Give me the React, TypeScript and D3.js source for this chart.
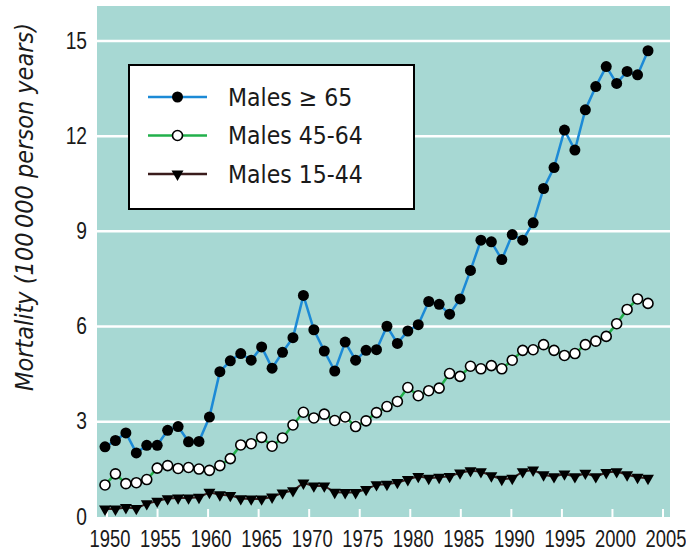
import { useEffect, useRef } from "react";
import * as d3 from "d3";

// yearly mortality
const years = [
  1950, 1951, 1952, 1953, 1954, 1955, 1956, 1957, 1958, 1959,
  1960, 1961, 1962, 1963, 1964, 1965, 1966, 1967, 1968, 1969,
  1970, 1971, 1972, 1973, 1974, 1975, 1976, 1977, 1978, 1979,
  1980, 1981, 1982, 1983, 1984, 1985, 1986, 1987, 1988, 1989,
  1990, 1991, 1992, 1993, 1994, 1995, 1996, 1997, 1998, 1999,
  2000, 2001, 2002,
];

const malesOver65 = [
  2.21, 2.41, 2.65, 2.02, 2.26, 2.26, 2.73, 2.85, 2.37, 2.38,
  3.15, 4.58, 4.92, 5.15, 4.94, 5.36, 4.69, 5.19, 5.65, 6.98,
  5.9, 5.23, 4.6, 5.51, 4.94, 5.25, 5.27, 6.01, 5.47, 5.86,
  6.06, 6.79, 6.7, 6.39, 6.87, 7.77, 8.72, 8.67, 8.11, 8.9,
  8.72, 9.27, 10.35, 11.01, 12.19, 11.56, 12.83, 13.56, 14.19, 13.66,
  14.04, 13.93, 14.69,
];

const males45to64 = [
  1.01, 1.36, 1.05, 1.08, 1.18, 1.54, 1.62, 1.53, 1.56, 1.51,
  1.47, 1.62, 1.84, 2.27, 2.31, 2.51, 2.23, 2.49, 2.9, 3.3,
  3.12, 3.24, 3.04, 3.15, 2.85, 3.03, 3.29, 3.48, 3.64, 4.08,
  3.82, 3.98, 4.06, 4.52, 4.43, 4.75, 4.67, 4.77, 4.67, 4.94,
  5.25, 5.27, 5.43, 5.25, 5.09, 5.15, 5.43, 5.54, 5.69, 6.09,
  6.54, 6.87, 6.73,
];

const males15to44 = [
  0.25, 0.25, 0.3, 0.27, 0.42, 0.5, 0.58, 0.6, 0.6, 0.62,
  0.78, 0.7, 0.68, 0.58, 0.57, 0.57, 0.63, 0.76, 0.83, 1.07,
  0.98, 0.98, 0.78, 0.77, 0.77, 0.87, 1.02, 1.03, 1.09, 1.18,
  1.28, 1.22, 1.25, 1.28, 1.39, 1.46, 1.43, 1.3, 1.19, 1.22,
  1.43, 1.48, 1.33, 1.27, 1.36, 1.27, 1.38, 1.27, 1.4, 1.43,
  1.33, 1.25, 1.22,
];

const xTicks = [1950, 1955, 1960, 1965, 1970, 1975, 1980, 1985, 1990, 1995, 2000, 2005];
const yTicks = [0, 3, 6, 9, 12, 15];
const legendLabels = ["Males \u2265 65", "Males 45-64", "Males 15-44"];

// tick labels: Arial-metric font squeezed horizontally to look like a condensed Helvetica
const TICK_FONT = '"Liberation Sans", Arimo, Arial, sans-serif';
const COND_FONT = '"DejaVu Sans Condensed", "Liberation Sans", sans-serif';

const App = () => {
  const svgRef = useRef<SVGSVGElement>(null);

  useEffect(() => {
    if (!svgRef.current) return;
    const svg = d3.select(svgRef.current);
    svg.selectAll("*").remove();

    const box = { left: 97, right: 670, top: 6, bottom: 517 };

    const y = d3.scaleLinear().domain([0, 16.1]).range([box.bottom, box.top]);
    // axis ticks and the plotted points don't share exactly the same spacing in the figure
    const xAxis = d3.scaleLinear().domain([1950, 2005]).range([107, 663]);
    const xPts = d3.scalePoint<number>().domain(years).range([105, 648]);

    // plot background
    svg.append("rect")
      .attr("x", box.left)
      .attr("y", box.top)
      .attr("width", box.right - box.left)
      .attr("height", box.bottom - box.top)
      .attr("fill", "#a7d8d3");

    // white grid lines
    svg.selectAll(".grid")
      .data(yTicks.filter(d => d > 0))
      .join("line")
      .attr("x1", box.left)
      .attr("x2", box.right)
      .attr("y1", d => y(d))
      .attr("y2", d => y(d))
      .attr("stroke", "#fff")
      .attr("stroke-width", 2.5);

    // little white ticks at the bottom
    svg.selectAll(".xtick")
      .data(xTicks)
      .join("line")
      .attr("x1", d => xAxis(d))
      .attr("x2", d => xAxis(d))
      .attr("y1", box.bottom)
      .attr("y2", box.bottom - 8)
      .attr("stroke", "#fff")
      .attr("stroke-width", 2);

    svg.selectAll(".xlabel")
      .data(xTicks)
      .join("text")
      .attr("transform", d => `translate(${xAxis(d) + 3},547) scale(0.8,1)`)
      .attr("text-anchor", "middle")
      .style("font-family", TICK_FONT)
      .style("font-size", "23px")
      .style("fill", "#1a1a1a")
      .text(d => d);

    svg.selectAll(".ylabel")
      .data(yTicks)
      .join("text")
      .attr("transform", d => `translate(87,${y(d) - 1}) scale(0.8,1)`)
      .attr("dy", "0.36em")
      .attr("text-anchor", "end")
      .style("font-family", TICK_FONT)
      .style("font-size", "24px")
      .style("fill", "#1a1a1a")
      .text(d => d);

    // axis title
    svg.append("text")
      .attr("transform", "translate(33,207) rotate(-90)")
      .attr("text-anchor", "middle")
      .style("font-family", COND_FONT)
      .style("font-style", "italic")
      .style("font-size", "25px")
      .style("fill", "#1a1a1a")
      .text("Mortality (100\u2009000 person years)");

    const line = (vals: number[]) =>
      d3.line<number>()
        .x((_, i) => xPts(years[i]) as number)
        .y(d => y(d))(vals);

    const tri = d3.symbol().type(d3.symbolTriangle).size(62)();

    // Males 15-44
    svg.append("path")
      .attr("d", line(males15to44))
      .attr("fill", "none")
      .attr("stroke", "#3a1c1c")
      .attr("stroke-width", 2);
    svg.selectAll(".tri")
      .data(males15to44)
      .join("path")
      .attr("d", tri)
      .attr("transform", (d, i) => `translate(${xPts(years[i])},${y(d)}) rotate(180)`)
      .attr("fill", "#000");

    // Males 45-64
    svg.append("path")
      .attr("d", line(males45to64))
      .attr("fill", "none")
      .attr("stroke", "#22b04b")
      .attr("stroke-width", 2.5);
    svg.selectAll(".open")
      .data(males45to64)
      .join("circle")
      .attr("cx", (_, i) => xPts(years[i]) as number)
      .attr("cy", d => y(d))
      .attr("r", 5)
      .attr("fill", "#fff")
      .attr("stroke", "#000")
      .attr("stroke-width", 1.6);

    // Males >= 65
    svg.append("path")
      .attr("d", line(malesOver65))
      .attr("fill", "none")
      .attr("stroke", "#1c8ad6")
      .attr("stroke-width", 2.5);
    svg.selectAll(".filled")
      .data(malesOver65)
      .join("circle")
      .attr("cx", (_, i) => xPts(years[i]) as number)
      .attr("cy", d => y(d))
      .attr("r", 5.5)
      .attr("fill", "#000");

    // legend
    const lg = svg.append("g");
    lg.append("rect")
      .attr("x", 129)
      .attr("y", 65)
      .attr("width", 285)
      .attr("height", 144)
      .attr("fill", "#fff")
      .attr("stroke", "#000")
      .attr("stroke-width", 2);

    const legendColors = ["#1c8ad6", "#22b04b", "#3a1c1c"];
    legendLabels.forEach((label, i) => {
      const ry = 97 + i * 38.5;
      lg.append("line")
        .attr("x1", 148)
        .attr("x2", 207)
        .attr("y1", ry)
        .attr("y2", ry)
        .attr("stroke", legendColors[i])
        .attr("stroke-width", 2.5);
      if (i === 0) {
        lg.append("circle").attr("cx", 177.5).attr("cy", ry).attr("r", 5.5).attr("fill", "#000");
      } else if (i === 1) {
        lg.append("circle").attr("cx", 177.5).attr("cy", ry).attr("r", 5)
          .attr("fill", "#fff").attr("stroke", "#000").attr("stroke-width", 1.6);
      } else {
        lg.append("path").attr("d", tri)
          .attr("transform", `translate(177.5,${ry}) rotate(180)`)
          .attr("fill", "#000");
      }
      lg.append("text")
        .attr("x", 228)
        .attr("y", ry)
        .attr("dy", "0.36em")
        .style("font-family", COND_FONT)
        .style("font-size", "24.5px")
        .style("fill", "#1a1a1a")
        .text(label);
    });
  }, []);

  return (
    <svg
      ref={svgRef}
      width={686}
      height={553}
      style={{ position: "absolute", left: 0, top: 0, background: "#fff" }}
    />
  );
};

export default App;
